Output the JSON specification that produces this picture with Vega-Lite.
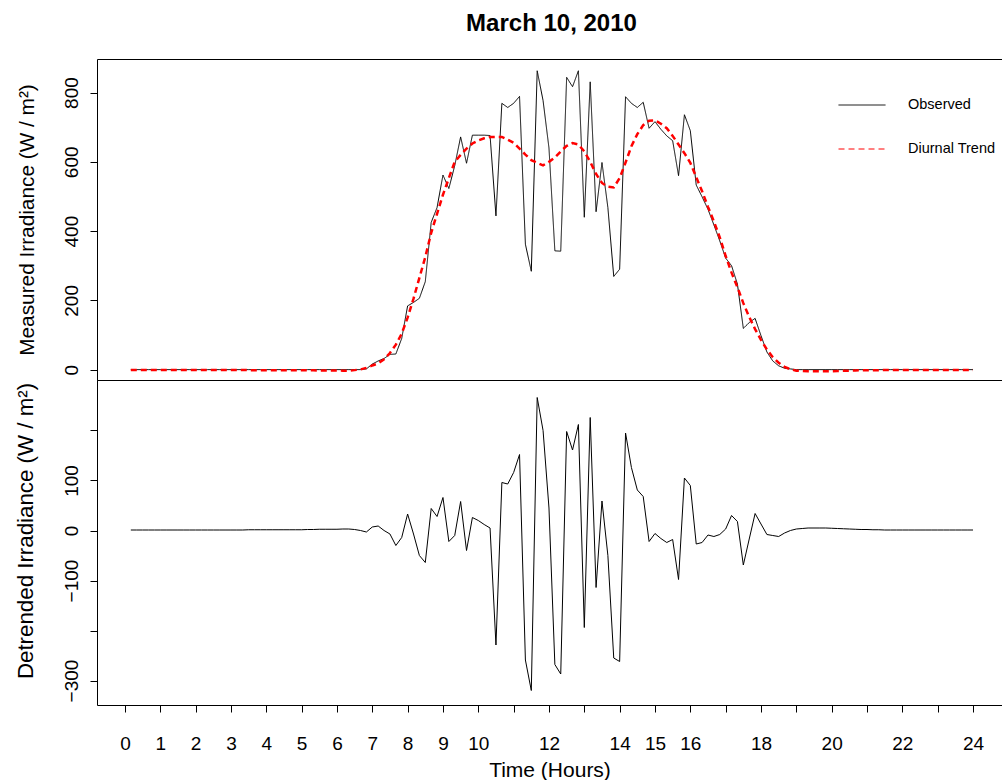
{
  "$schema": "https://vega.github.io/schema/vega-lite/v6.json",
  "padding": {"left": 13, "top": 12, "right": 0, "bottom": 0},
  "title": {"text": "March 10, 2010", "fontSize": 24, "fontWeight": "bold", "color": "black", "font": "Liberation Sans", "anchor": "middle", "frame": "group", "offset": 23, "dx": 2},
  "config": {
    "font": "Liberation Sans",
    "view": {"stroke": null},
    "axis": {"domainColor": "black", "tickColor": "black", "labelColor": "black", "titleColor": "black", "labelFont": "Liberation Sans", "titleFont": "Liberation Sans", "labelFontSize": 19, "titleFontSize": 20.8, "titleFontWeight": "normal", "tickSize": 7, "grid": false, "domainWidth": 1, "tickWidth": 1}
  },
  "spacing": 0,
  "bounds": "flush",
  "resolve": {"scale": {"x": "independent", "y": "independent"}},
  "data": {"values": [
    {"h": 0.167, "Observed": 0, "Diurnal Trend": -1, "Detrended": 1},
    {"h": 0.333, "Observed": 0, "Diurnal Trend": -1, "Detrended": 1},
    {"h": 0.5, "Observed": 0, "Diurnal Trend": -1, "Detrended": 1},
    {"h": 0.667, "Observed": 0, "Diurnal Trend": -1, "Detrended": 1},
    {"h": 0.833, "Observed": 0, "Diurnal Trend": -1, "Detrended": 1},
    {"h": 1, "Observed": 0, "Diurnal Trend": -1, "Detrended": 1},
    {"h": 1.167, "Observed": 0, "Diurnal Trend": -1, "Detrended": 1},
    {"h": 1.333, "Observed": 0, "Diurnal Trend": -1, "Detrended": 1},
    {"h": 1.5, "Observed": 0, "Diurnal Trend": -1, "Detrended": 1},
    {"h": 1.667, "Observed": 0, "Diurnal Trend": -1, "Detrended": 1},
    {"h": 1.833, "Observed": 0, "Diurnal Trend": -1, "Detrended": 1},
    {"h": 2, "Observed": 0, "Diurnal Trend": -1, "Detrended": 1},
    {"h": 2.167, "Observed": 0, "Diurnal Trend": -1, "Detrended": 1},
    {"h": 2.333, "Observed": 0, "Diurnal Trend": -1, "Detrended": 1},
    {"h": 2.5, "Observed": 0, "Diurnal Trend": -1, "Detrended": 1},
    {"h": 2.667, "Observed": 0, "Diurnal Trend": -1, "Detrended": 1},
    {"h": 2.833, "Observed": 0, "Diurnal Trend": -1, "Detrended": 1},
    {"h": 3, "Observed": 0, "Diurnal Trend": -1, "Detrended": 1},
    {"h": 3.167, "Observed": 0, "Diurnal Trend": -1, "Detrended": 1},
    {"h": 3.333, "Observed": 0, "Diurnal Trend": -1, "Detrended": 1},
    {"h": 3.5, "Observed": 0, "Diurnal Trend": -1.5, "Detrended": 1.5},
    {"h": 3.667, "Observed": 0, "Diurnal Trend": -1.5, "Detrended": 1.5},
    {"h": 3.833, "Observed": 0, "Diurnal Trend": -1.5, "Detrended": 1.5},
    {"h": 4, "Observed": 0, "Diurnal Trend": -1.5, "Detrended": 1.5},
    {"h": 4.167, "Observed": 0, "Diurnal Trend": -1.5, "Detrended": 1.5},
    {"h": 4.333, "Observed": 0, "Diurnal Trend": -1.5, "Detrended": 1.5},
    {"h": 4.5, "Observed": 0, "Diurnal Trend": -1.5, "Detrended": 1.5},
    {"h": 4.667, "Observed": 0, "Diurnal Trend": -1.5, "Detrended": 1.5},
    {"h": 4.833, "Observed": 0, "Diurnal Trend": -1.5, "Detrended": 1.5},
    {"h": 5, "Observed": 0, "Diurnal Trend": -1.5, "Detrended": 1.5},
    {"h": 5.167, "Observed": 0, "Diurnal Trend": -2, "Detrended": 2},
    {"h": 5.333, "Observed": 0, "Diurnal Trend": -2, "Detrended": 2},
    {"h": 5.5, "Observed": 0, "Diurnal Trend": -2.5, "Detrended": 2.5},
    {"h": 5.667, "Observed": 0, "Diurnal Trend": -2.5, "Detrended": 2.5},
    {"h": 5.833, "Observed": 0, "Diurnal Trend": -2.5, "Detrended": 2.5},
    {"h": 6, "Observed": 0, "Diurnal Trend": -2.5, "Detrended": 2.5},
    {"h": 6.167, "Observed": 0, "Diurnal Trend": -3, "Detrended": 3},
    {"h": 6.333, "Observed": 0, "Diurnal Trend": -3, "Detrended": 3},
    {"h": 6.5, "Observed": 0, "Diurnal Trend": -1.5, "Detrended": 2},
    {"h": 6.667, "Observed": 0, "Diurnal Trend": 0.5, "Detrended": 0},
    {"h": 6.833, "Observed": 2, "Diurnal Trend": 5, "Detrended": -3},
    {"h": 7, "Observed": 16, "Diurnal Trend": 12, "Detrended": 7},
    {"h": 7.167, "Observed": 25, "Diurnal Trend": 18, "Detrended": 9},
    {"h": 7.333, "Observed": 32, "Diurnal Trend": 30, "Detrended": 0},
    {"h": 7.5, "Observed": 44, "Diurnal Trend": 48, "Detrended": -7},
    {"h": 7.667, "Observed": 45, "Diurnal Trend": 72, "Detrended": -30},
    {"h": 7.833, "Observed": 90, "Diurnal Trend": 104, "Detrended": -14},
    {"h": 8, "Observed": 184, "Diurnal Trend": 150, "Detrended": 33},
    {"h": 8.167, "Observed": 194, "Diurnal Trend": 205, "Detrended": -7},
    {"h": 8.333, "Observed": 206, "Diurnal Trend": 265, "Detrended": -50},
    {"h": 8.5, "Observed": 254, "Diurnal Trend": 325, "Detrended": -64},
    {"h": 8.667, "Observed": 425, "Diurnal Trend": 395, "Detrended": 44},
    {"h": 8.833, "Observed": 468, "Diurnal Trend": 450, "Detrended": 28},
    {"h": 9, "Observed": 562, "Diurnal Trend": 505, "Detrended": 66},
    {"h": 9.167, "Observed": 523, "Diurnal Trend": 553, "Detrended": -22},
    {"h": 9.333, "Observed": 589, "Diurnal Trend": 600, "Detrended": -10},
    {"h": 9.5, "Observed": 672, "Diurnal Trend": 620, "Detrended": 58},
    {"h": 9.667, "Observed": 596, "Diurnal Trend": 638, "Detrended": -40},
    {"h": 9.833, "Observed": 677, "Diurnal Trend": 653, "Detrended": 26},
    {"h": 10, "Observed": 677, "Diurnal Trend": 662, "Detrended": 20},
    {"h": 10.167, "Observed": 677, "Diurnal Trend": 668, "Detrended": 12},
    {"h": 10.333, "Observed": 676, "Diurnal Trend": 672, "Detrended": 5},
    {"h": 10.5, "Observed": 444, "Diurnal Trend": 672, "Detrended": -229},
    {"h": 10.667, "Observed": 769, "Diurnal Trend": 672, "Detrended": 96},
    {"h": 10.833, "Observed": 757, "Diurnal Trend": 664, "Detrended": 93},
    {"h": 11, "Observed": 769, "Diurnal Trend": 655, "Detrended": 116},
    {"h": 11.167, "Observed": 789, "Diurnal Trend": 638, "Detrended": 152},
    {"h": 11.333, "Observed": 362, "Diurnal Trend": 621, "Detrended": -259},
    {"h": 11.5, "Observed": 284, "Diurnal Trend": 605, "Detrended": -320},
    {"h": 11.667, "Observed": 863, "Diurnal Trend": 597, "Detrended": 266},
    {"h": 11.833, "Observed": 777, "Diurnal Trend": 590, "Detrended": 200},
    {"h": 12, "Observed": 640, "Diurnal Trend": 600, "Detrended": 45},
    {"h": 12.167, "Observed": 343, "Diurnal Trend": 613, "Detrended": -268},
    {"h": 12.333, "Observed": 342, "Diurnal Trend": 630, "Detrended": -287},
    {"h": 12.5, "Observed": 844, "Diurnal Trend": 646, "Detrended": 198},
    {"h": 12.667, "Observed": 817, "Diurnal Trend": 654, "Detrended": 161},
    {"h": 12.833, "Observed": 863, "Diurnal Trend": 650, "Detrended": 212},
    {"h": 13, "Observed": 440, "Diurnal Trend": 630, "Detrended": -194},
    {"h": 13.167, "Observed": 831, "Diurnal Trend": 600, "Detrended": 226},
    {"h": 13.333, "Observed": 456, "Diurnal Trend": 565, "Detrended": -114},
    {"h": 13.5, "Observed": 598, "Diurnal Trend": 539, "Detrended": 59},
    {"h": 13.667, "Observed": 468, "Diurnal Trend": 528, "Detrended": -50},
    {"h": 13.833, "Observed": 269, "Diurnal Trend": 526, "Detrended": -255},
    {"h": 14, "Observed": 290, "Diurnal Trend": 553, "Detrended": -262},
    {"h": 14.167, "Observed": 788, "Diurnal Trend": 598, "Detrended": 195},
    {"h": 14.333, "Observed": 769, "Diurnal Trend": 645, "Detrended": 126},
    {"h": 14.5, "Observed": 757, "Diurnal Trend": 680, "Detrended": 81},
    {"h": 14.667, "Observed": 772, "Diurnal Trend": 706, "Detrended": 68},
    {"h": 14.833, "Observed": 697, "Diurnal Trend": 719, "Detrended": -22},
    {"h": 15, "Observed": 716, "Diurnal Trend": 720, "Detrended": -6},
    {"h": 15.167, "Observed": 694, "Diurnal Trend": 710, "Detrended": -16},
    {"h": 15.333, "Observed": 675, "Diurnal Trend": 697, "Detrended": -24},
    {"h": 15.5, "Observed": 661, "Diurnal Trend": 675, "Detrended": -18},
    {"h": 15.667, "Observed": 560, "Diurnal Trend": 650, "Detrended": -98},
    {"h": 15.833, "Observed": 736, "Diurnal Trend": 625, "Detrended": 105},
    {"h": 16, "Observed": 690, "Diurnal Trend": 597, "Detrended": 90},
    {"h": 16.167, "Observed": 533, "Diurnal Trend": 556, "Detrended": -27},
    {"h": 16.333, "Observed": 499, "Diurnal Trend": 515, "Detrended": -24},
    {"h": 16.5, "Observed": 463, "Diurnal Trend": 470, "Detrended": -9},
    {"h": 16.667, "Observed": 418, "Diurnal Trend": 428, "Detrended": -12},
    {"h": 16.833, "Observed": 372, "Diurnal Trend": 382, "Detrended": -8},
    {"h": 17, "Observed": 322, "Diurnal Trend": 328, "Detrended": 3},
    {"h": 17.167, "Observed": 300, "Diurnal Trend": 280, "Detrended": 30},
    {"h": 17.333, "Observed": 247, "Diurnal Trend": 238, "Detrended": 18},
    {"h": 17.5, "Observed": 119, "Diurnal Trend": 192, "Detrended": -69},
    {"h": 17.667, "Observed": 136, "Diurnal Trend": 152, "Detrended": -17},
    {"h": 17.833, "Observed": 148, "Diurnal Trend": 117, "Detrended": 34},
    {"h": 18, "Observed": 98, "Diurnal Trend": 86, "Detrended": 13},
    {"h": 18.167, "Observed": 51, "Diurnal Trend": 58, "Detrended": -8},
    {"h": 18.333, "Observed": 25, "Diurnal Trend": 36, "Detrended": -10},
    {"h": 18.5, "Observed": 11, "Diurnal Trend": 20, "Detrended": -12},
    {"h": 18.667, "Observed": 4, "Diurnal Trend": 8, "Detrended": -5},
    {"h": 18.833, "Observed": 2, "Diurnal Trend": 1, "Detrended": 0},
    {"h": 19, "Observed": 0, "Diurnal Trend": -3, "Detrended": 3},
    {"h": 19.167, "Observed": 0, "Diurnal Trend": -4, "Detrended": 4},
    {"h": 19.333, "Observed": 0, "Diurnal Trend": -5, "Detrended": 5},
    {"h": 19.5, "Observed": 0, "Diurnal Trend": -5, "Detrended": 5},
    {"h": 19.667, "Observed": 0, "Diurnal Trend": -5, "Detrended": 5},
    {"h": 19.833, "Observed": 0, "Diurnal Trend": -5, "Detrended": 5},
    {"h": 20, "Observed": 0, "Diurnal Trend": -4.5, "Detrended": 4.5},
    {"h": 20.167, "Observed": 0, "Diurnal Trend": -4, "Detrended": 4},
    {"h": 20.333, "Observed": 0, "Diurnal Trend": -3.5, "Detrended": 3.5},
    {"h": 20.5, "Observed": 0, "Diurnal Trend": -3, "Detrended": 3},
    {"h": 20.667, "Observed": 0, "Diurnal Trend": -2.5, "Detrended": 2.5},
    {"h": 20.833, "Observed": 0, "Diurnal Trend": -2, "Detrended": 2},
    {"h": 21, "Observed": 0, "Diurnal Trend": -2, "Detrended": 2},
    {"h": 21.167, "Observed": 0, "Diurnal Trend": -1.5, "Detrended": 1.5},
    {"h": 21.333, "Observed": 0, "Diurnal Trend": -1.5, "Detrended": 1.5},
    {"h": 21.5, "Observed": 0, "Diurnal Trend": -1, "Detrended": 1},
    {"h": 21.667, "Observed": 0, "Diurnal Trend": -1, "Detrended": 1},
    {"h": 21.833, "Observed": 0, "Diurnal Trend": -1, "Detrended": 1},
    {"h": 22, "Observed": 0, "Diurnal Trend": -1, "Detrended": 1},
    {"h": 22.167, "Observed": 0, "Diurnal Trend": -1, "Detrended": 1},
    {"h": 22.333, "Observed": 0, "Diurnal Trend": -1, "Detrended": 1},
    {"h": 22.5, "Observed": 0, "Diurnal Trend": -1, "Detrended": 1},
    {"h": 22.667, "Observed": 0, "Diurnal Trend": -1, "Detrended": 1},
    {"h": 22.833, "Observed": 0, "Diurnal Trend": -1, "Detrended": 1},
    {"h": 23, "Observed": 0, "Diurnal Trend": -1, "Detrended": 1},
    {"h": 23.167, "Observed": 0, "Diurnal Trend": -1, "Detrended": 1},
    {"h": 23.333, "Observed": 0, "Diurnal Trend": -1, "Detrended": 1},
    {"h": 23.5, "Observed": 0, "Diurnal Trend": -1, "Detrended": 1},
    {"h": 23.667, "Observed": 0, "Diurnal Trend": -1, "Detrended": 1},
    {"h": 23.833, "Observed": 0, "Diurnal Trend": -1, "Detrended": 1},
    {"h": 24, "Observed": 0, "Diurnal Trend": -1, "Detrended": 1}
  ]},
  "vconcat": [
    {
      "width": 905,
      "height": 321,
      "transform": [{"fold": ["Observed", "Diurnal Trend"], "as": ["series", "value"]}],
      "encoding": {
        "y": {"field": "value", "type": "quantitative", "scale": {"domain": [-30, 897], "nice": false, "zero": false},
              "axis": {"values": [0, 200, 400, 600, 800], "title": "Measured Irradiance (W / m²)", "labelAngle": -90, "labelAlign": "center", "labelBaseline": "bottom", "labelPadding": 9, "minExtent": 40, "maxExtent": 40, "titlePadding": 20, "domain": true}}
      },
      "layer": [
        {
          "transform": [{"filter": "datum.series == 'Observed'"}],
          "mark": {"type": "line", "interpolate": "linear", "strokeWidth": 1},
          "encoding": {
            "x": {"field": "h", "type": "quantitative", "scale": {"domain": [-0.79, 24.82], "nice": false, "zero": false},
                  "axis": {"orient": "bottom", "title": null, "labels": false, "ticks": false, "domain": true}},
            "color": {"field": "series", "type": "nominal", "scale": {"domain": ["Observed", "Diurnal Trend"], "range": ["#000000", "#ff0000"]},
                      "legend": {"title": null, "orient": "none", "legendX": 741, "legendY": 22, "symbolType": "stroke", "symbolSize": 2209, "symbolStrokeWidth": 1, "labelFontSize": 14.5, "labelFont": "Liberation Sans", "labelColor": "black", "labelOffset": 22, "rowPadding": 13, "padding": 0}},
            "strokeDash": {"field": "series", "type": "nominal", "scale": {"domain": ["Observed", "Diurnal Trend"], "range": [[1, 0], [6, 4]]},
                      "legend": {"title": null, "orient": "none", "legendX": 741, "legendY": 22, "symbolType": "stroke", "symbolSize": 2209, "symbolStrokeWidth": 1, "labelFontSize": 14.5, "labelFont": "Liberation Sans", "labelColor": "black", "labelOffset": 22, "rowPadding": 13, "padding": 0}}
          }
        },
        {
          "transform": [{"filter": "datum.series == 'Diurnal Trend'"}],
          "mark": {"type": "line", "interpolate": "linear", "strokeWidth": 2.5},
          "encoding": {
            "x": {"field": "h", "type": "quantitative", "scale": {"domain": [-0.79, 24.82], "nice": false, "zero": false},
                  "axis": {"orient": "bottom", "title": null, "labels": false, "ticks": false, "domain": true}},
            "color": {"field": "series", "type": "nominal", "scale": {"domain": ["Observed", "Diurnal Trend"], "range": ["#000000", "#ff0000"]},
                      "legend": {"title": null, "orient": "none", "legendX": 741, "legendY": 22, "symbolType": "stroke", "symbolSize": 2209, "symbolStrokeWidth": 1, "labelFontSize": 14.5, "labelFont": "Liberation Sans", "labelColor": "black", "labelOffset": 22, "rowPadding": 13, "padding": 0}},
            "strokeDash": {"field": "series", "type": "nominal", "scale": {"domain": ["Observed", "Diurnal Trend"], "range": [[1, 0], [6, 4]]},
                      "legend": {"title": null, "orient": "none", "legendX": 741, "legendY": 22, "symbolType": "stroke", "symbolSize": 2209, "symbolStrokeWidth": 1, "labelFontSize": 14.5, "labelFont": "Liberation Sans", "labelColor": "black", "labelOffset": 22, "rowPadding": 13, "padding": 0}}
          }
        },
        {
          "mark": {"type": "line", "opacity": 0},
          "encoding": {
            "x": {"field": "h", "type": "quantitative", "axis": {"orient": "top", "title": null, "labels": false, "ticks": false, "domain": true}}
          }
        }
      ]
    },
    {
      "width": 905,
      "height": 325,
      "mark": {"type": "line", "color": "black", "strokeWidth": 1, "interpolate": "linear"},
      "encoding": {
        "x": {"field": "h", "type": "quantitative", "scale": {"domain": [-0.79, 24.82], "nice": false, "zero": false},
              "axis": {"orient": "bottom", "values": [0,1,2,3,4,5,6,7,8,9,10,11,12,13,14,15,16,17,18,19,20,21,22,23,24],
                       "labelExpr": "indexof([0,1,2,3,4,5,6,7,8,9,10,12,14,15,16,18,20,22,24], datum.value) >= 0 ? datum.label : ''",
                       "labelOverlap": false, "labelFlush": false, "labelPadding": 22, "title": "Time (Hours)", "titleFontSize": 21, "titlePadding": 6, "domain": true}},
        "y": {"field": "Detrended", "type": "quantitative", "scale": {"domain": [-349, 301], "nice": false, "zero": false},
              "axis": {"values": [-300, -200, -100, 0, 100, 200], "labelExpr": "datum.value == 200 || datum.value == -200 ? '' : datum.label", "title": "Detrended Irradiance (W / m²)", "titleFontSize": 22.3, "titleY": 150.5, "labelAngle": -90, "labelAlign": "center", "labelBaseline": "bottom", "labelPadding": 9, "minExtent": 40, "maxExtent": 40, "titlePadding": 20}}
      }
    }
  ]
}
